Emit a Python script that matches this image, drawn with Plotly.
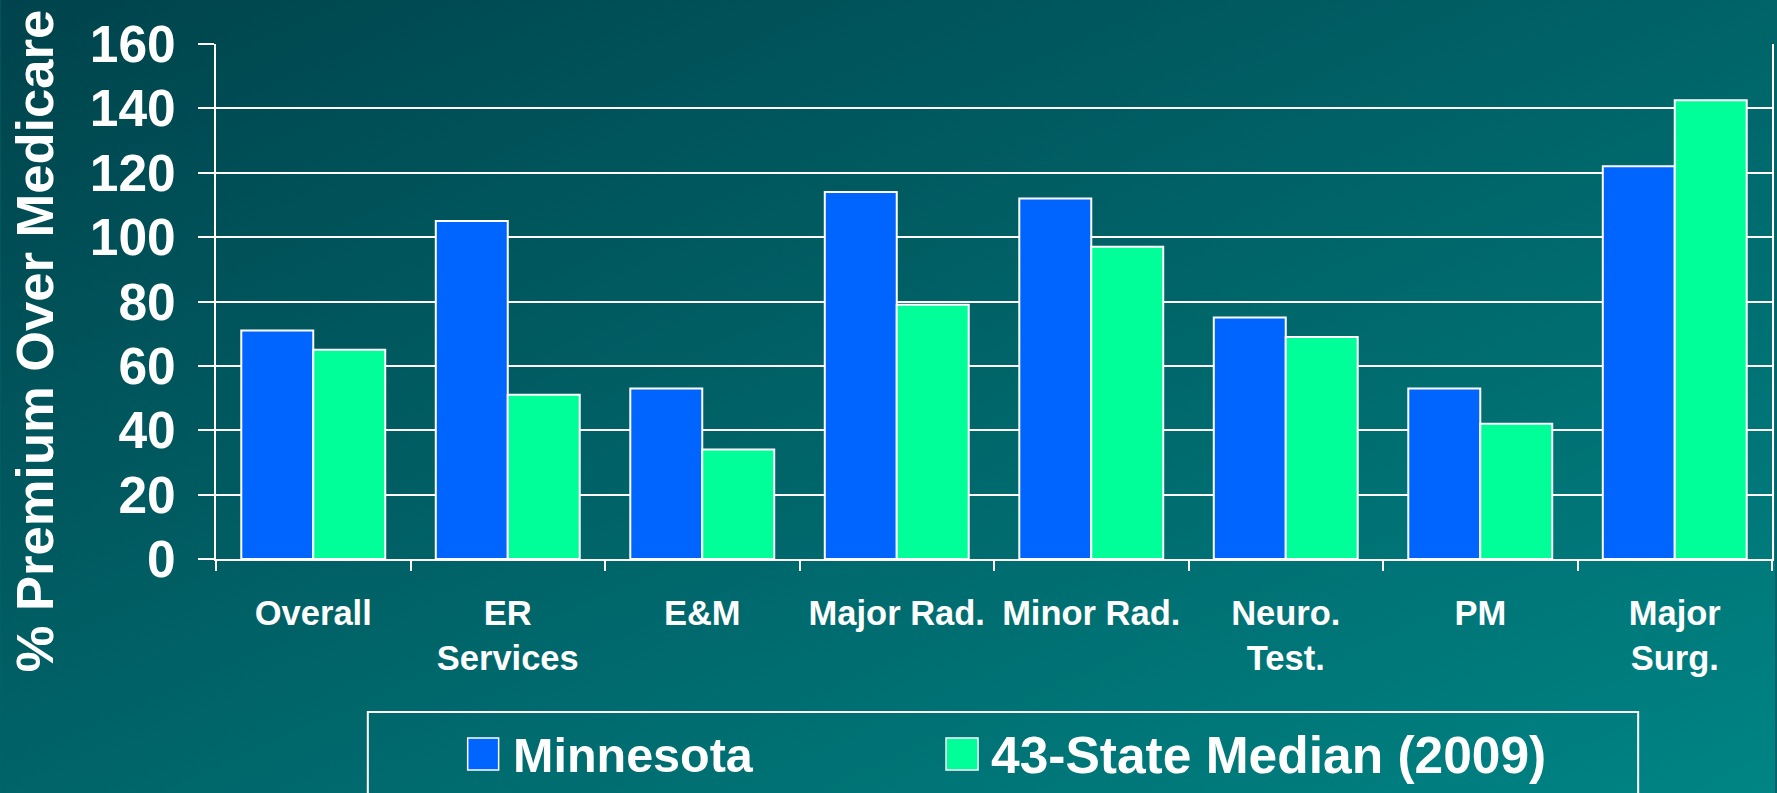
import base64
import plotly.graph_objects as go

# ---- data ----
categories = ["Overall", "ER<br>Services", "E&M", "Major Rad.", "Minor Rad.",
              "Neuro.<br>Test.", "PM", "Major<br>Surg."]
minnesota = [71, 105, 53, 114, 112, 75, 53, 122]
state_median = [65, 51, 34, 79, 97, 69, 42, 142.5]
series_names = ["Minnesota", "43-State Median (2009)"]
y_ticks = [0, 20, 40, 60, 80, 100, 120, 140, 160]

W, H = 1777, 793
L, R, T, B = 216, 1774, 44, 559
BLUE = "#0064ff"
GREEN = "#00ff99"
FONT = "Liberation Sans"


def px_x(px):
    return (px - L) / (R - L)


def px_y(py):
    return (B - py) / (B - T)


svg = ("<svg xmlns='http://www.w3.org/2000/svg' width='1777' height='793' preserveAspectRatio='none'>"
       "<defs><linearGradient id='g' x1='0' y1='0' x2='1' y2='1'>"
       "<stop offset='0' stop-color='#00434c'/><stop offset='1' stop-color='#008484'/>"
       "</linearGradient></defs><rect width='1777' height='793' fill='url(#g)'/></svg>")
bg_src = "data:image/svg+xml;base64," + base64.b64encode(svg.encode()).decode()

fig = go.Figure()
for name, vals, col in [(series_names[0], minnesota, BLUE), (series_names[1], state_median, GREEN)]:
    fig.add_trace(go.Bar(x=categories, y=vals, name=name, marker_color=col,
                         marker_line_color="white", marker_line_width=2, showlegend=False))

fig.update_layout(
    width=W, height=H,
    margin=dict(l=L, r=W - R, t=T, b=H - B, pad=0),
    paper_bgcolor="#00646a", plot_bgcolor="rgba(0,0,0,0)",
    barmode="group", bargap=0.26, bargroupgap=0,
    font=dict(family=FONT, color="white"),
    images=[dict(source=bg_src, xref="paper", yref="paper",
                 x=px_x(0), y=px_y(0), sizex=W / (R - L), sizey=H / (B - T),
                 sizing="stretch", xanchor="left", yanchor="top", layer="below")],
)
fig.update_xaxes(type="category", showgrid=False, showline=True, linecolor="white", linewidth=2,
                 ticks="outside", tickson="boundaries", ticklen=10, tickwidth=2, tickcolor="white",
                 tickfont=dict(family=FONT, size=34.5, color="white", weight="bold"),
                 ticklabelstandoff=23)
fig.update_yaxes(range=[0, 160], tickvals=y_ticks, showgrid=True, gridcolor="white", gridwidth=2,
                 zeroline=False, showline=True, mirror=True, linecolor="white", linewidth=2,
                 ticks="outside", ticklen=16, tickwidth=2, tickcolor="white",
                 tickfont=dict(family=FONT, size=51.5, color="white", weight="bold"),
                 ticklabelstandoff=12)

# y-axis title
fig.add_annotation(text="% Premium Over Medicare", xref="paper", yref="paper",
                   x=px_x(35), y=px_y(341), xanchor="center", yanchor="middle",
                   textangle=-90, showarrow=False,
                   font=dict(family=FONT, size=52.5, color="white", weight="bold"))

# legend box (drawn manually to match the large swatches)
fig.add_shape(type="rect", xref="paper", yref="paper",
              x0=px_x(368), x1=px_x(1640), y0=px_y(712), y1=px_y(805),
              line=dict(color="white", width=2), fillcolor="rgba(0,0,0,0)", layer="above")
for (sx0, sx1, tx, fs), name, col in [((468, 499, 511, 48.5), series_names[0], BLUE),
                                       ((947, 979, 990, 51.5), series_names[1], GREEN)]:
    fig.add_shape(type="rect", xref="paper", yref="paper",
                  x0=px_x(sx0), x1=px_x(sx1), y0=px_y(738), y1=px_y(770),
                  line=dict(color="white", width=1.5), fillcolor=col)
    fig.add_annotation(text=name, xref="paper", yref="paper", x=px_x(tx), y=px_y(755),
                       xanchor="left", yanchor="middle", showarrow=False,
                       font=dict(family=FONT, size=fs, color="white", weight="bold"))

fig.write_html("out.html", config={"displayModeBar": False},
               post_script="document.body.style.margin='0';")
